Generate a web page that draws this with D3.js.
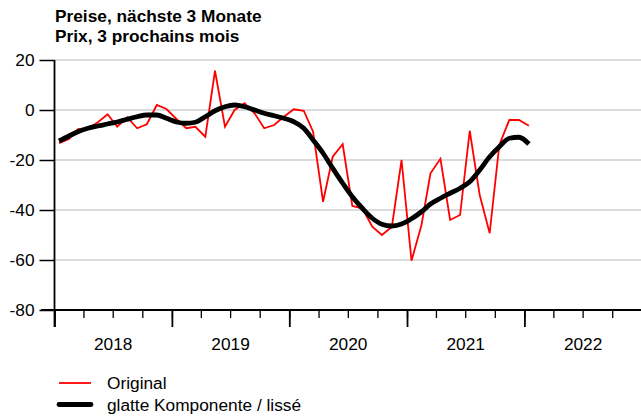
<!DOCTYPE html>
<html>
<head>
<meta charset="utf-8">
<script src="https://cdn.jsdelivr.net/npm/d3@7"></script>
<style>
  html, body { margin: 0; padding: 0; background: #fff; }
  svg { display: block; font-family: "Liberation Sans", Arial, sans-serif; }
</style>
</head>
<body>
<svg id="chart" width="641" height="419"></svg>
<script>
const titleLines = ["Preise, nächste 3 Monate", "Prix, 3 prochains mois"];
const startYear = 2018;
const startMonth = 0; // January
const original = [-13.3, -11.6, -7.6, -7.3, -5, -1.7, -6.7, -2.9, -7.3, -5.7, 2, 0.4,
  -3.6, -7.3, -6.7, -10.7, 15.7, -6.7, 0, 2.7, -1.3, -7.3, -6, -2.7,
  0.3, -0.3, -8.7, -36.7, -18.7, -13.7, -38.4, -39.3, -46.7, -50, -46.7, -20,
  -60.3, -46, -25.3, -19.5, -44, -42, -8.3, -34, -49.3, -14, -4, -4, -6.3];
const smooth = [-12.4, -10.4, -8.7, -7.3, -6.4, -5.6, -4.8, -3.7, -2.7, -2, -2, -3.3,
  -4.8, -5.3, -4.9, -2.7, -0.3, 1.3, 2, 1.3, 0, -1.3, -2.3, -3.3,
  -4.7, -7.3, -12, -17.3, -23.3, -29.3, -34.7, -39.3, -43.3, -45.7, -46.4, -45.6,
  -43.5, -40.7, -37.6, -35.3, -33.3, -31.3, -28.7, -24, -18.7, -14.7, -11.3, -10.9, -13.6];
const yTicks = [-80, -60, -40, -20, 0, 20];
const yearLabels = ["2018", "2019", "2020", "2021", "2022"];
const legendLabels = ["Original", "glatte Komponente / lissé"];
const seriesColors = ["#ff0000", "#000000"];

const FS = 17.3;
const dates = original.map((_, i) => new Date(startYear, startMonth + i, 15));

const svg = d3.select("#chart");
const x = d3.scaleTime()
  .domain([new Date(2018, 0, 1), new Date(2023, 0, 1)])
  .range([54.5, 641.8]);
const y = d3.scaleLinear().domain([-80, 20]).range([310, 60]);

// gridlines
svg.append("g").selectAll("line")
  .data(yTicks.filter(d => d !== -80))
  .join("line")
  .attr("x1", 54.5).attr("x2", 641)
  .attr("y1", d => y(d)).attr("y2", d => y(d))
  .attr("stroke", "#cfcfcf").attr("stroke-width", 1.5);

// title
svg.append("g").selectAll("text")
  .data(titleLines)
  .join("text")
  .attr("x", 55).attr("y", (d, i) => 22 + i * 20)
  .attr("font-size", FS).attr("font-weight", "bold").attr("fill", "#000")
  .text(d => d);

// y axis
const yAxis = svg.append("g")
  .attr("transform", `translate(${x.range()[0]},0)`)
  .call(d3.axisLeft(y).tickValues(yTicks).tickSize(15).tickPadding(5).tickFormat(d => String(d)));
yAxis.selectAll("text").attr("font-size", FS).attr("fill", "#000").style("font-family", "Liberation Sans, Arial, sans-serif");
yAxis.selectAll("line").attr("stroke", "#000").attr("stroke-width", 1.5);
yAxis.select(".domain").attr("stroke", "#000").attr("stroke-width", 1.8).attr("d", `M0,${y(20)}V${y(-80) + 17}`);

// x axis: minor quarterly ticks
const xMinor = svg.append("g")
  .attr("transform", `translate(0,${y(-80)})`)
  .call(d3.axisBottom(x).ticks(d3.timeMonth.every(3)).tickSize(8).tickFormat(""));
xMinor.selectAll("line").attr("stroke", "#000").attr("stroke-width", 1.3);
xMinor.select(".domain").attr("stroke", "#000").attr("stroke-width", 1.8)
  .attr("d", `M41,0H641`);

// x axis: major yearly ticks
const xMajor = svg.append("g")
  .attr("transform", `translate(0,${y(-80)})`)
  .call(d3.axisBottom(x).ticks(d3.timeYear.every(1)).tickSize(17).tickFormat(""));
xMajor.selectAll("line").attr("stroke", "#000").attr("stroke-width", 1.8);
xMajor.select(".domain").remove();

// year labels centered in each year
svg.append("g").selectAll("text")
  .data(yearLabels)
  .join("text")
  .attr("x", d => (x(new Date(+d, 0, 1)) + x(new Date(+d + 1, 0, 1))) / 2)
  .attr("y", 350)
  .attr("text-anchor", "middle")
  .attr("font-size", FS).attr("fill", "#000")
  .text(d => d);

// series
const lineRed = d3.line().x((d, i) => x(dates[i])).y(d => y(d));
const lineSmooth = d3.line().x((d, i) => x(dates[i])).y(d => y(d)).curve(d3.curveMonotoneX);

svg.append("path").datum(original)
  .attr("d", lineRed)
  .attr("fill", "none").attr("stroke", seriesColors[0]).attr("stroke-width", 1.8)
  .attr("stroke-linejoin", "miter");

svg.append("path").datum(smooth)
  .attr("d", lineSmooth)
  .attr("fill", "none").attr("stroke", seriesColors[1]).attr("stroke-width", 4.8)
  .attr("stroke-linejoin", "round").attr("stroke-linecap", "butt");

// legend
const legend = svg.append("g");
legendLabels.forEach((lab, i) => {
  const ly = 383 + i * 21.5;
  legend.append("line")
    .attr("x1", 59).attr("x2", 91).attr("y1", ly).attr("y2", ly)
    .attr("stroke", seriesColors[i]).attr("stroke-width", i === 0 ? 1.8 : 4.8)
    .attr("stroke-linecap", i === 0 ? "butt" : "round");
  legend.append("text")
    .attr("x", 107).attr("y", ly + 6)
    .attr("font-size", FS).attr("fill", "#000")
    .text(lab);
});
</script>
</body>
</html>
